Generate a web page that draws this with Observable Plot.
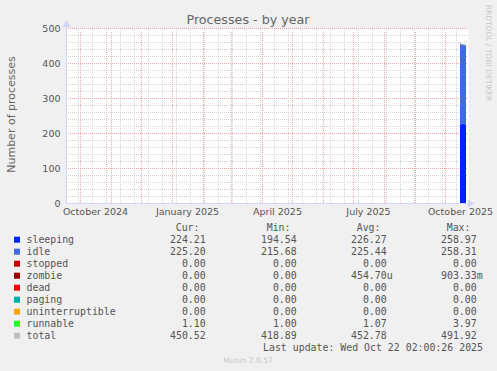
<!DOCTYPE html>
<html><head><meta charset="utf-8">
<script src="https://cdn.jsdelivr.net/npm/d3@7"></script>
<script src="https://cdn.jsdelivr.net/npm/@observablehq/plot@0.6"></script>
<style>
html,body{margin:0;padding:0;background:#F0F0F0;}
#chart{width:497px;height:371px;}
</style></head><body><div id="chart"></div>
<script>
const title = "Processes - by year";
const yLabel = "Number of processes";
const watermark = "RRDTOOL / TOBI OETIKER";
const footer = "Munin 2.0.57";
const lastUpdate = "Last update: Wed Oct 22 02:00:26 2025";

const dates = ["2025-10-16T02:00Z","2025-10-17T02:00Z","2025-10-18T02:00Z","2025-10-19T02:00Z","2025-10-20T02:00Z","2025-10-21T02:00Z","2025-10-22T02:00Z"];
const sleeping = [222, 226, 225, 227, 225, 226, 224.21];
const idle = [237, 227, 228, 226, 227, 226, 225.20];
const stopped = [0, 0, 0, 0, 0, 0, 0];
const zombie = [0, 0, 0, 0, 0, 0, 0];
const dead = [0, 0, 0, 0, 0, 0, 0];
const paging = [0, 0, 0, 0, 0, 0, 0];
const uninterruptible = [0, 0, 0, 0, 0, 0, 0];
const runnable = [1.2, 1.1, 1.0, 1.1, 1.0, 1.1, 1.10];
const total = [460.2, 454.1, 454.0, 454.1, 453.0, 453.1, 450.52];

const seriesNames = ["sleeping","idle","stopped","zombie","dead","paging","uninterruptible","runnable","total"];
const seriesColors = ["#0022ff","#4169e1","#cc0000","#990000","#ff0000","#00aaaa","#ffa500","#22ff22","#c0c0c0"];
const curValues = ["224.21","225.20","0.00","0.00","0.00","0.00","0.00","1.10","450.52"];
const minValues = ["194.54","215.68","0.00","0.00","0.00","0.00","0.00","1.00","418.89"];
const avgValues = ["226.27","225.44","0.00","454.70u","0.00","0.00","0.00","1.07","452.78"];
const maxValues = ["258.97","258.31","0.00","903.33m","0.00","0.00","0.00","3.97","491.92"];
const columnHeaders = ["Cur:","Min:","Avg:","Max:"];

const xTickDates = ["2024-10-16T02:00Z","2025-01-16T02:00Z","2025-04-16T02:00Z","2025-07-16T02:00Z","2025-10-16T02:00Z"];
const xTickLabels = ["October 2024","January 2025","April 2025","July 2025","October 2025"];
const yTicks = [0, 100, 200, 300, 400, 500];

const x0 = new Date("2024-09-17T02:00Z"), x1 = new Date("2025-10-24T02:00Z");
const parsedDates = dates.map(d => new Date(d));
const stackArrays = [sleeping, idle, stopped, zombie, dead, paging, uninterruptible, runnable];
const stackNames = seriesNames.slice(0, 8);
const longData = [];
stackArrays.forEach((arr, s) => arr.forEach((v, i) => longData.push({date: parsedDates[i], series: stackNames[s], value: v})));
const totalData = total.map((v, i) => ({date: parsedDates[i], value: v}));

const minorY = d3.range(0, 501, 20).filter(v => v % 100 !== 0);
const majorX = d3.utcMonth.range(x0, x1);
const minorX = d3.utcSunday.range(new Date("2024-09-29T00:00Z"), x1, 2);
const tickLab = new Map(xTickDates.map((d, i) => [+new Date(d), xTickLabels[i]]));

const gridMinor = "#d2d2d2", gridMajor = "#eaa3a3", axisCol = "#CFD6F8", fontCol = "#555";

const chart = Plot.plot({
  width: 497, height: 371,
  marginLeft: 66, marginRight: 29, marginTop: 28, marginBottom: 168,
  style: {background: "transparent", fontFamily: "DejaVu Sans", fontSize: "9.5px", color: fontCol},
  x: {type: "utc", domain: [x0, x1]},
  y: {domain: [0, 500]},
  color: {domain: seriesNames, range: seriesColors},
  marks: [
    Plot.frame({fill: "white", stroke: null}),
    Plot.ruleY(minorY, {stroke: gridMinor, strokeDasharray: "1,1"}),
    Plot.ruleX(minorX, {stroke: gridMinor, strokeDasharray: "1,1"}),
    Plot.ruleY(yTicks, {stroke: gridMajor, strokeDasharray: "1,1"}),
    Plot.ruleX(majorX, {stroke: gridMajor, strokeDasharray: "1,1", y1: 0, y2: 500, insetBottom: -3}),
    Plot.areaY(longData, {x: "date", y: "value", z: "series", fill: "series", order: stackNames}),
    Plot.lineY(totalData, {x: "date", y: "value", stroke: seriesColors[8], strokeWidth: 1}),
    Plot.ruleY([0], {stroke: axisCol}),
    Plot.ruleX([x0], {stroke: axisCol, y1: 0, y2: 512}),
    Plot.dot([{x: x0, y: 511}], {x: "x", y: "y", symbol: "triangle", r: 3, fill: axisCol, stroke: null}),
    Plot.dot([{x: new Date(+x1 + 1.6 * 864e5), y: 0}], {x: "x", y: "y", symbol: "triangle", r: 3, rotate: 90, fill: axisCol, stroke: null}),
    Plot.axisX({ticks: xTickDates.map(d => new Date(d)), tickFormat: d => tickLab.get(+d), tickSize: 0, tickPadding: 5, label: null}),
    Plot.axisY({ticks: yTicks, tickSize: 0, tickPadding: 6, label: null})
  ]
});
document.getElementById("chart").appendChild(chart);

const svg = d3.select(chart);
const sans = "DejaVu Sans", mono = "DejaVu Sans Mono";
svg.append("text").attr("x", 248).attr("y", 19).attr("text-anchor", "middle").attr("dominant-baseline", "central")
  .attr("font-family", sans).attr("font-size", "12.7px").attr("fill", "#666").text(title);
svg.append("text").attr("transform", "translate(11,114.5) rotate(-90)").attr("text-anchor", "middle").attr("dominant-baseline", "central")
  .attr("font-family", sans).attr("font-size", "11px").attr("fill", "#666").text(yLabel);
svg.append("text").attr("transform", "translate(488,53) rotate(90)").attr("text-anchor", "middle").attr("dominant-baseline", "central")
  .attr("font-family", sans).attr("font-size", "7.5px").attr("fill", "#c8c8c8").text(watermark);

const colRight = [205.7, 296.7, 386.7, 476.7];
const headRight = [199.5, 290.5, 380.5, 470.5];
const lg = svg.append("g").attr("font-family", mono).attr("font-size", "9.9px").attr("fill", fontCol).attr("dominant-baseline", "central").attr("text-anchor", "start");
columnHeaders.forEach((h, c) => lg.append("text").attr("x", headRight[c]).attr("y", 227.5).attr("text-anchor", "end").text(h));
const cols = [curValues, minValues, avgValues, maxValues];
seriesNames.forEach((name, i) => {
  const y = 239.7 + 12 * i;
  lg.append("rect").attr("x", 14).attr("y", y - 3).attr("width", 6).attr("height", 6).attr("fill", seriesColors[i]);
  lg.append("text").attr("x", 26.5).attr("y", y).attr("text-anchor", "start").text(name);
  cols.forEach((col, c) => {
    const v = col[i];
    const m = v.match(/^([\d.]+)([a-zA-Z]?)$/);
    lg.append("text").attr("x", colRight[c]).attr("y", y).attr("text-anchor", "end").text(m[1]);
    if (m[2]) lg.append("text").attr("x", colRight[c]).attr("y", y).attr("text-anchor", "start").text(m[2]);
  });
});
lg.append("text").attr("x", 483).attr("y", 347.7).attr("text-anchor", "end").text(lastUpdate);
svg.append("text").attr("x", 248).attr("y", 360).attr("text-anchor", "middle").attr("dominant-baseline", "central")
  .attr("font-family", sans).attr("font-size", "7.6px").attr("fill", "#c8c8c8").text(footer);
</script></body></html>
